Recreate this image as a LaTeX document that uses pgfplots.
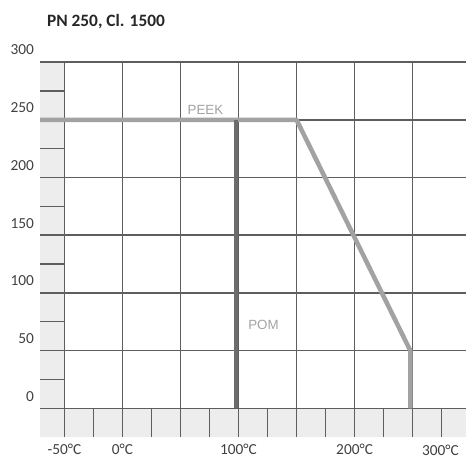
\documentclass[border=0pt]{standalone}
\usepackage{pgfplots}
\pgfplotsset{compat=1.18}
\usepackage{fontspec}
\setmainfont{Carlito}
\newfontfamily\labelfont{Liberation Sans}

\definecolor{gridc}{HTML}{5E5E5E}
\definecolor{bandc}{HTML}{EDEDED}
\definecolor{peekc}{HTML}{A2A2A2}
\definecolor{pomc}{HTML}{6C6C6C}

\begin{document}
\begin{tikzpicture}
\begin{axis}[
    set layers,
    x=0.87pt, y=0.865pt,
    xmin=-71, xmax=296,
    ymin=-25, ymax=300,
    axis line style={draw=none},
    major tick length=0pt,
    xtick={-50,0,...,250},
    xticklabels={-50°C,0°C,,100°C,,200°C,},
    ytick={0,50,...,300},
    grid=major,
    grid style={gridc, line width=1.1pt},
    clip=false,
    /pgf/number format/assume math mode=true,
    ticklabel style={font=\fontsize{11.5}{13}\selectfont, text=black!75},
    yticklabel style={yshift=9pt, xshift=-1pt},
    xticklabel style={yshift=-2pt},
]
% shaded bands along the left and bottom edges
\begin{pgfonlayer}{axis background}
\fill[bandc] (axis cs:-71,-25) rectangle (axis cs:-50,300);
\fill[bandc] (axis cs:-71,-25) rectangle (axis cs:296,0);
\end{pgfonlayer}

% half-step ticks in the bands
\pgfplotsinvokeforeach{25,75,...,275}{
  \draw[gridc, line width=1.1pt] (axis cs:-71,#1) -- (axis cs:-50,#1);
}
\pgfplotsinvokeforeach{-25,25,75,...,275}{
  \draw[gridc, line width=1.1pt] (axis cs:#1,-25) -- (axis cs:#1,0);
}

% PEEK
\addplot[peekc, line width=3.4pt, line join=round] coordinates {
    (-71,250) (150,250) (248,50) (248,0)
};
% POM
\addplot[pomc, line width=3pt] coordinates {
    (98,250) (98,0)
};

\node[text=peekc, font=\labelfont\fontsize{10}{12}\selectfont] at (axis cs:71.5,258.5) {PEEK};
\node[text=peekc, font=\labelfont\fontsize{10}{12}\selectfont] at (axis cs:121.5,72) {POM};

\node[anchor=west, font=\bfseries\fontsize{13}{15}\selectfont, text=black!85] at (axis cs:-69,335.5) {PN 250, Cl. 1500};
\node[font=\fontsize{11.5}{13}\selectfont, text=black!75, anchor=base] at (axis cs:274,-41) {300°C};

\coordinate (bl) at (axis cs:-105.5,-47.7);
\coordinate (tr) at (axis cs:296,353.8);
\end{axis}
\pgfresetboundingbox
\useasboundingbox (bl) rectangle (tr);
\end{tikzpicture}
\end{document}
